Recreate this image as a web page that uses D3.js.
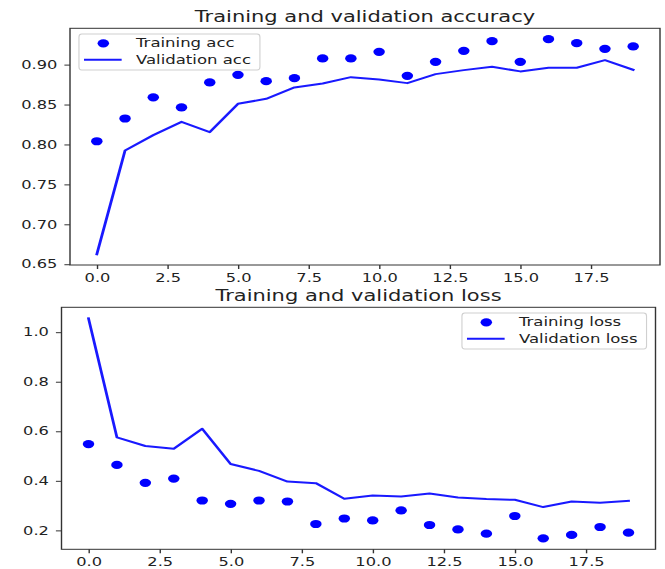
<!DOCTYPE html>
<html>
<head>
<meta charset="utf-8">
<script src="https://cdn.jsdelivr.net/npm/d3@7"></script>
<style>
  html, body { margin: 0; padding: 0; background: #fff; }
  svg { display: block; }
  text { font-family: "DejaVu Sans", sans-serif; fill: #222; }
</style>
</head>
<body>
<svg id="chart" width="665" height="569"></svg>
<script>
// ---------------- data ----------------
const epochs = [0,1,2,3,4,5,6,7,8,9,10,11,12,13,14,15,16,17,18,19];
const trainAcc = [0.804,0.8325,0.859,0.8464,0.8777,0.8872,0.8793,0.8831,0.9078,0.9078,
                  0.916,0.886,0.9035,0.9173,0.9295,0.9035,0.932,0.927,0.9198,0.9228];
const valAcc   = [0.6625,0.7924,0.8117,0.8283,0.8154,0.8509,0.8572,0.8714,0.8764,0.8843,
                  0.8814,0.8768,0.8881,0.8931,0.8973,0.8915,0.896,0.896,0.9056,0.8935];
const trainLoss = [0.5485,0.464,0.392,0.409,0.3206,0.307,0.3206,0.3166,0.2257,0.248,
                   0.240,0.2804,0.2217,0.204,0.1867,0.258,0.168,0.1815,0.2137,0.1908];
const valLoss   = [1.056,0.5755,0.5405,0.5297,0.610,0.468,0.440,0.397,0.3906,0.3274,
                   0.3407,0.3367,0.3487,0.3327,0.3262,0.3234,0.294,0.3166,0.3113,0.3194];
const xTicks = [0,2.5,5,7.5,10,12.5,15,17.5];
const accTicks = [0.65,0.70,0.75,0.80,0.85,0.90];
const lossTicks = [0.2,0.4,0.6,0.8,1.0];
const titles = ["Training and validation accuracy", "Training and validation loss"];
const accLabels = ["Training acc", "Validation acc"];
const lossLabels = ["Training loss", "Validation loss"];

// ---------------- layout ----------------
const SX = 1.4;              // reference image is stretched horizontally
const svg = d3.select("#chart");
const root = svg.append("g").attr("transform", `scale(${SX},1)`);
const BLUE = "#0000ff";
const TICK_FS = 11.6, LEGEND_FS = 11.8, TITLE_FS = 15;

function pad(lo, hi) { const m = (hi - lo) * 0.05; return [lo - m, hi + m]; }

function panel(cfg) {
  const {x0, x1, y0, y1, ptsY, lineY, yTicks, yFmt, title, labels, legendPos} = cfg;
  const g = root.append("g");
  const all = ptsY.concat(lineY);
  const x = d3.scaleLinear().domain(pad(d3.min(epochs), d3.max(epochs))).range([x0, x1]);
  const y = d3.scaleLinear().domain(pad(d3.min(all), d3.max(all))).range([y1, y0]);

  // axes
  const xa = g.append("g").attr("transform", `translate(0,${y1})`)
    .call(d3.axisBottom(x).tickValues(xTicks).tickFormat(d3.format(".1f")).tickSize(4).tickPadding(4.5).tickSizeOuter(0));
  const ya = g.append("g").attr("transform", `translate(${x0},0)`)
    .call(d3.axisLeft(y).tickValues(yTicks).tickFormat(d3.format(yFmt)).tickSize(4).tickPadding(5).tickSizeOuter(0));
  [xa, ya].forEach(a => {
    a.select(".domain").remove();
    a.selectAll("line").attr("stroke", "#333").attr("stroke-width", 1);
    a.selectAll("text").attr("font-size", TICK_FS).attr("font-family", "DejaVu Sans").attr("fill", "#222");
  });

  // line
  const line = d3.line().x((d, i) => x(epochs[i])).y(d => y(d));
  g.append("path").datum(lineY).attr("d", line)
    .attr("fill", "none").attr("stroke", BLUE).attr("stroke-width", 2)
    .attr("stroke-linejoin", "round").attr("stroke-linecap", "square").attr("opacity", 0.9);

  // dots
  g.append("g").selectAll("circle").data(ptsY).join("circle")
    .attr("cx", (d, i) => x(epochs[i])).attr("cy", d => y(d)).attr("r", 4.1).attr("fill", BLUE);

  // frame
  g.append("rect").attr("x", x0).attr("y", y0).attr("width", x1 - x0).attr("height", y1 - y0)
    .attr("fill", "none").attr("stroke", "#333").attr("stroke-width", 1);

  // title
  g.append("text").attr("x", (x0 + x1) / 2).attr("y", y0 - 5.8)
    .attr("text-anchor", "middle").attr("font-size", TITLE_FS).text(title);

  // legend
  const lg = g.append("g");
  const box = lg.append("rect").attr("rx", 2).attr("ry", 3)
    .attr("fill", "#fff").attr("fill-opacity", 0.8).attr("stroke", "#d0d0d0").attr("stroke-width", 0.8);
  const texts = labels.map((t, i) => lg.append("text").attr("font-size", LEGEND_FS)
    .attr("dy", "0.35em").text(t));
  const maxW = d3.max(texts, t => t.node().getComputedTextLength());
  const bw = 40.7 + maxW + 6.4, bh = 36;
  const bx = legendPos === "left" ? x0 + 6.4 : x1 - 6.4 - bw;
  const by = y0 + 5.7;
  box.attr("x", bx).attr("y", by).attr("width", bw).attr("height", bh);
  const rows = [by + 9.3, by + 25.7];
  texts.forEach((t, i) => t.attr("x", bx + 40.7).attr("y", rows[i]));
  lg.append("circle").attr("cx", bx + 17.4).attr("cy", rows[0]).attr("r", 4.1).attr("fill", BLUE);
  lg.append("line").attr("x1", bx + 3.6).attr("x2", bx + 30.5).attr("y1", rows[1]).attr("y2", rows[1])
    .attr("stroke", BLUE).attr("stroke-width", 2).attr("opacity", 0.9);
}

panel({x0: 70 / SX, x1: 660 / SX, y0: 28.3, y1: 265,
       ptsY: trainAcc, lineY: valAcc, yTicks: accTicks, yFmt: ".2f",
       title: titles[0], labels: accLabels, legendPos: "left"});
panel({x0: 61.5 / SX, x1: 655.5 / SX, y0: 307.3, y1: 549.3,
       ptsY: trainLoss, lineY: valLoss, yTicks: lossTicks, yFmt: ".1f",
       title: titles[1], labels: lossLabels, legendPos: "right"});
</script>
</body>
</html>
